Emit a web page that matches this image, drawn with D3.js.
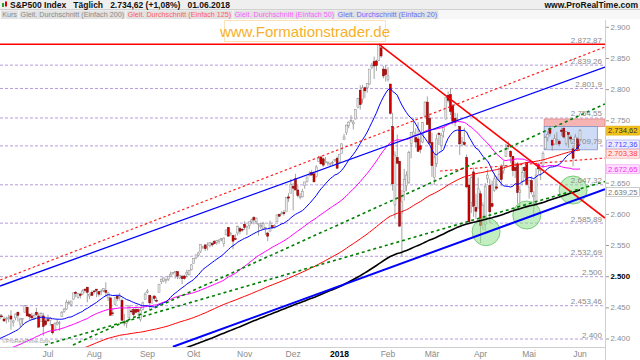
<!DOCTYPE html>
<html><head><meta charset="utf-8">
<script src="https://cdn.jsdelivr.net/npm/d3@7"></script>
<style>body{margin:0;background:#fff}svg{display:block;font-family:"Liberation Sans",Arial,sans-serif}</style>
</head><body><svg id="c" width="640" height="360"></svg>
<script>
// ---------- DATA ----------
const holidays = ["2017-07-04","2017-09-04","2017-11-23","2017-12-25","2018-01-01","2018-01-15","2018-02-19","2018-03-30","2018-05-28"];
const monthNames = ["Jan","Feb","Mär","Apr","Mai","Jun","Jul","Aug","Sep","Okt","Nov","Dez"];
// closes before the visible window (Aug 2016 - Jun 1 2017), needed for moving averages
const histCloses = [2182,2187,2184,2183,2187,2175,2172,2169,2180,2176,2171,
2171,2180,2186,2186,2181,2128,2159,2127,2126,2147,2139,2139,2140,2163,2177,2165,2146,2160,2171,2151,2168,
2161,2150,2160,2161,2154,2164,2137,2139,2133,2133,2127,2140,2144,2141,2141,2151,2143,2139,2133,2133,2126,
2112,2098,2089,2085,2132,2140,2163,2167,2164,2164,2180,2177,2187,2182,2198,2203,2205,2213,2202,2205,2199,
2191,2192,2205,2212,2241,2246,2260,2257,2272,2253,2262,2258,2263,2271,2265,2261,2264,2269,2250,2249,2239,
2258,2271,2269,2277,2269,2269,2275,2270,2275,2268,2272,2264,2271,2265,2280,2298,2297,2295,2281,2279,
2280,2281,2297,2293,2293,2295,2308,2316,2328,2338,2349,2347,2351,2365,2363,2364,2367,2370,2364,
2396,2382,2383,2375,2368,2363,2365,2373,2373,2365,2385,2381,2378,2373,2344,2348,2346,2344,2342,2359,2361,2368,2363,
2359,2360,2353,2357,2356,2357,2354,2345,2329,2349,2342,2338,2356,2349,2374,2389,2387,2389,2384,
2388,2391,2388,2390,2399,2399,2397,2400,2394,2391,2402,2401,2357,2366,2382,2394,2398,2404,2415,2416,2413,2412,
2430];
// daily bars [open, high, low, close]
const jun17 = [[2432,2440,2427,2439],[2437,2440,2434,2436],[2432,2436,2428,2429],[2432,2436,2425,2433],[2434,2439,2427,2434],[2437,2446,2415,2432],[2427,2431,2420,2429],[2434,2441,2430,2440],[2443,2444,2428,2438],[2424,2434,2419,2432],[2431,2433,2422,2433],[2443,2454,2443,2453.46],[2451,2451,2437,2437],[2440,2440,2431,2436],[2437,2442,2430,2434],[2432,2441,2431,2438],[2443,2450,2437,2439],[2437,2442,2419,2419],[2428,2443,2428,2441],[2437,2442,2405,2420],[2429,2432,2421,2423]];
const jul17 = [[2431,2439,2428,2429],[2430,2435,2421,2433],[2423,2424,2407,2410],[2414,2427,2413,2425],[2424,2432,2422,2427],[2426,2429,2413,2426],[2436,2445,2436,2443],[2444,2450,2442,2448],[2448,2463,2447,2459],[2459,2462,2455,2459],[2455,2461,2452,2461],[2464,2474,2463,2474],[2475,2477,2467,2473],[2467,2472,2465,2473],[2472,2474,2465,2470],[2472,2480,2471,2477],[2480,2481,2474,2478],[2483,2484,2459,2475],[2469,2473,2464,2472],[2475,2478,2469,2470]];
const aug17 = [[2477,2479,2473,2476],[2480,2480,2467,2478],[2476,2477,2468,2472],[2476,2480,2470,2477],[2478,2481,2475,2481],[2478,2491,2468,2475],[2466,2475,2461,2474],[2466,2466,2438,2438],[2442,2450,2437,2441],[2455,2468,2455,2466],[2469,2470,2461,2465],[2468,2474,2462,2468],[2462,2465,2430,2430],[2427,2440,2421,2426],[2425,2430,2418,2428],[2434,2454,2434,2453],[2445,2448,2441,2444],[2447,2450,2436,2439],[2447,2452,2441,2443],[2447,2449,2436,2444],[2431,2450,2428,2446],[2447,2460,2446,2458],[2463,2475,2463,2472]];
const sep17 = [[2475,2480,2473,2477],[2470,2471,2447,2458],[2464,2469,2456,2466],[2469,2470,2461,2465],[2462,2467,2459,2461],[2475,2488,2475,2488],[2492,2497,2488,2496],[2493,2499,2491,2498],[2494,2497,2489,2496],[2496,2500,2493,2500],[2501,2508,2500,2504],[2506,2507,2503,2507],[2507,2509,2497,2508],[2508,2508,2496,2501],[2498,2503,2496,2502],[2500,2503,2488,2497],[2501,2503,2495,2497],[2504,2511,2499,2507],[2503,2511,2502,2510],[2511,2520,2510,2519]];
const oct17 = [[2521,2530,2521,2529],[2530,2535,2528,2535],[2534,2540,2532,2538],[2540,2552,2538,2552],[2547,2549,2544,2549],[2551,2551,2541,2545],[2550,2555,2542,2551],[2550,2555,2547,2555],[2553,2556,2548,2551],[2557,2558,2552,2553],[2555,2559,2551,2558],[2557,2560,2553,2559],[2560,2562,2557,2561],[2553,2563,2548,2562],[2567,2575,2567,2575],[2579,2579,2564,2565],[2568,2572,2566,2569],[2566,2567,2544,2557],[2561,2568,2559,2560],[2570,2582,2566,2581],[2577,2580,2568,2573],[2576,2578,2572,2575]];
const nov17 = [[2584,2589,2575,2579],[2579,2582,2567,2580],[2582,2588,2576,2588],[2588,2593,2585,2591],[2595,2597,2584,2591],[2588,2595,2585,2594],[2585,2585,2566,2585],[2580,2586,2576,2582],[2577,2588,2576,2585],[2577,2580,2567,2579],[2570,2572,2557,2565],[2573,2590,2573,2586],[2582,2583,2577,2579],[2580,2584,2577,2582],[2588,2600,2588,2599],[2600,2601,2596,2597],[2600,2605,2600,2602],[2603,2607,2598,2601],[2605,2627,2605,2627],[2628,2634,2620,2626],[2634,2657,2634,2648]];
const dec17 = [[2645,2650,2606,2642],[2657,2665,2639,2639],[2639,2648,2627,2630],[2627,2634,2624,2629],[2628,2641,2627,2637],[2646,2652,2641,2652],[2653,2660,2651,2660],[2662,2669,2661,2664],[2667,2671,2662,2663],[2665,2669,2652,2652],[2661,2679,2659,2676],[2685,2694,2685,2690],[2692,2694,2680,2681],[2689,2691,2676,2679],[2683,2692,2682,2685],[2683,2685,2678,2683],[2680,2683,2677,2681],[2683,2686,2679,2683],[2686,2688,2684,2688],[2690,2693,2673,2674]];
const jan18 = [[2684,2696,2682,2696],[2698,2714,2698,2713],[2720,2729,2719,2724],[2731,2744,2727,2743],[2742,2749,2738,2748],[2751,2759,2747,2751],[2745,2751,2736,2748],[2753,2768,2752,2768],[2771,2787,2770,2786],[2799,2807,2768,2776],[2785,2808,2778,2803],[2803,2805,2787,2798],[2803,2810,2795,2810],[2809,2833,2808,2833],[2836,2843,2833,2839],[2845,2853,2817,2838],[2846,2848,2830,2839],[2847,2872.87,2846,2872.87],[2867,2871,2851,2854],[2833,2838,2818,2822],[2832,2839.26,2813,2824]];
const feb18 = [[2816,2836,2813,2822],[2809,2809,2760,2762],[2741,2763,2638,2649],[2615,2701,2593,2695],[2691,2728,2681,2682],[2685,2685,2581,2581],[2602,2639,2532.69,2620],[2637,2673,2622,2656],[2646,2669,2637,2663],[2651,2702,2649,2699],[2713,2732,2690,2731],[2727,2754,2725,2732],[2723,2738,2707,2716],[2721,2748,2701,2701],[2710,2731,2698,2704],[2716,2748,2714,2747],[2757,2781,2754,2780],[2780,2789,2744,2744],[2754,2762,2714,2714]];
const mar18 = [[2715,2731,2660,2678],[2659,2696,2647.32,2691],[2681,2728,2676,2721],[2730,2732,2711,2728],[2710,2731,2702,2727],[2733,2740,2723,2739],[2753,2787,2752,2787],[2791,2797,2779,2783],[2792,2801.9,2759,2765],[2774,2777,2744,2749],[2754,2763,2741,2747],[2751,2762,2750,2752],[2741,2741,2695,2713],[2715,2724,2710,2717],[2715,2739,2709.79,2712],[2691,2696,2642,2644],[2647,2658,2585.89,2588],[2619,2661,2602,2659],[2668,2675,2596,2613],[2611,2633,2593,2605],[2610,2659,2610,2641]];
const apr18 = [[2633,2638,2554,2582],[2592,2619,2575,2614],[2584,2650,2574,2645],[2657,2672,2650,2663],[2646,2657,2586,2604],[2617,2654,2611,2613],[2638,2665,2636,2657],[2644,2661,2639,2642],[2654,2675,2654,2664],[2677,2680,2645,2656],[2670,2686,2665,2678],[2693,2713,2692,2706],[2710,2717,2704,2709],[2701,2703,2682,2693],[2693,2694,2661,2670],[2675,2683,2658,2670],[2681,2684,2617,2635],[2635,2645,2613,2639],[2652,2676,2647,2667],[2675,2677,2659,2670],[2683,2683,2648,2648]];
const may18 = [[2643,2655,2625,2655],[2654,2661,2632,2636],[2628,2637,2595,2630],[2621,2674,2615,2663],[2680,2683,2665,2673],[2670,2676,2655,2672],[2678,2701,2674,2698],[2705,2726,2705,2723],[2723,2733,2717,2728],[2738,2742,2725,2730],[2719,2719,2702,2711],[2713,2728,2712,2722],[2720,2732,2711,2720],[2717,2720,2709,2713],[2735,2739,2726,2733],[2738,2742,2722,2724],[2714,2733,2710,2733],[2731,2732,2707,2728],[2724,2727,2715,2721],[2705,2711,2677,2690],[2702,2729,2702,2724],[2721,2723,2701,2705]];
const jun18 = [[2719,2737,2719,2734.62]];

// annotations (price units / trading-day index)
const levels = [2839.26, 2801.9, 2754.55, 2709.79, 2647.32, 2585.89, 2532.69, 2500, 2453.46, 2400];
const levelLabels = ["2.839,26","2.801,9","2.754,55","2.709,79","2.647,32","2.585,89","2.532,69","2.500","2.453,46","2.400"];
const topLevel = 2872.87, topLevelLabel = "2.872,87";
const yTicks = [2900, 2850, 2800, 2750, 2650, 2600, 2550, 2500, 2450, 2400];
const badgeValues = [2734.62, 2712.36, 2703.38, 2672.65, 2639.25];
const badgeLabels = ["2.734,62","2.712,36","2.703,38","2.672,65","2.639,25"];
const trendLines = [
  {a:[164,2872.87], b:[261.8,2594], kind:"redSolid"},
  {a:[0.3,2485], b:[261.8,2836.3], kind:"blueThin"},
  {a:[0.3,2494.6], b:[261.8,2868.4], kind:"redDash"},
  {a:[75,2387.5], b:[261.8,2640.3], kind:"blueThick"},
  {a:[31.8,2390.4], b:[261.8,2777], kind:"greenDash"},
  {a:[19.7,2390.4], b:[261.8,2652.6], kind:"greenDash"},
  {a:[190.5,2669.5], b:[261.8,2690.3], kind:"redDash"}
];
const circles = [[210.4,2572.1],[228.0,2598.9],[248.0,2639.0]];
const boxRange = {i0:235.5, i1:258.5, lo:2703.5, hi:2741};
const pinkRange = {i0:235.5, i1:261.8, lo:2741, hi:2753};
const maPeriods = [200,125,50,20];
const legendItems = [["Kurs","#8a8a8a"],["Gleit. Durchschnitt (Einfach 200)","#8a8a8a"],["Gleit. Durchschnitt (Einfach 125)","#ff5c5c"],["Gleit. Durchschnitt (Einfach 50)","#ff5cff"],["Gleit. Durchschnitt (Einfach 20)","#6a6aff"]];

// ---------- BUILD ----------
const bars = [].concat(jun17,jul17,aug17,sep17,oct17,nov17,dec17,jan18,feb18,mar18,apr18,may18,jun18);
const hol = new Set(holidays);
const fmtD = d3.utcFormat("%Y-%m-%d");
const dates = d3.utcDays(new Date(Date.UTC(2017,5,2)), new Date(Date.UTC(2018,5,2)))
  .filter(d => d.getUTCDay()!==0 && d.getUTCDay()!==6 && !hol.has(fmtD(d)));
const data = bars.map((b,i)=>({i, date:dates[i], o:b[0], h:b[1], l:b[2], c:b[3]}));
const allCloses = histCloses.concat(data.map(d=>d.c));
const H0 = histCloses.length;
function sma(n){
  return data.map((d,i)=>{const j=i+H0; if(j-n+1<0) return null; return d3.mean(allCloses.slice(j-n+1,j+1));});
}

const svg = d3.select("#c");
const L=0, R=605, T=20, B=347;
const x = d3.scaleLinear().domain([0, 251]).range([-0.6, 580]);
const y = d3.scaleLinear().domain([2387.2, 2911.7]).range([B, T]);

svg.append("defs").append("clipPath").attr("id","pc").append("rect").attr("x",L).attr("y",T).attr("width",R-L).attr("height",B-T);
const plot = svg.append("g").attr("clip-path","url(#pc)");

// level lines
plot.selectAll(".lv").data(levels).join("line")
  .attr("x1",L).attr("x2",R).attr("y1",d=>y(d)).attr("y2",d=>y(d))
  .attr("stroke","#b39ddb").attr("stroke-width",1).attr("stroke-dasharray","3,2");

// consolidation box
plot.append("rect").attr("x",x(pinkRange.i0)).attr("width",x(pinkRange.i1)-x(pinkRange.i0))
  .attr("y",y(pinkRange.hi)).attr("height",y(pinkRange.lo)-y(pinkRange.hi))
  .attr("fill","#f6b4b4").attr("stroke","#e08888").attr("stroke-width",0.8);
plot.append("rect").attr("x",x(boxRange.i0)).attr("width",x(boxRange.i1)-x(boxRange.i0))
  .attr("y",y(boxRange.hi)).attr("height",y(boxRange.lo)-y(boxRange.hi))
  .attr("fill","#cfdcf6").attr("stroke","#8391c4").attr("stroke-width",0.8);

// candles
const cg = plot.append("g");
cg.selectAll(".w").data(data).join("line")
  .attr("x1",d=>x(d.i)).attr("x2",d=>x(d.i)).attr("y1",d=>y(d.h)).attr("y2",d=>y(d.l))
  .attr("stroke","#8c8c8c").attr("stroke-width",0.8);
cg.selectAll(".b").data(data).join("rect")
  .attr("x",d=>x(d.i)-1).attr("width",2)
  .attr("y",d=>y(Math.max(d.o,d.c))).attr("height",d=>Math.max(0.8,Math.abs(y(d.o)-y(d.c))))
  .attr("fill",d=>d.c>=d.o?"#ececec":"#d40000")
  .attr("stroke",d=>d.c>=d.o?"#8c8c8c":"#7a0000").attr("stroke-width",0.5);

// green circles
plot.selectAll(".ci").data(circles).join("circle")
  .attr("cx",d=>x(d[0])).attr("cy",d=>y(d[1])).attr("r",14)
  .attr("fill","#8fe08f").attr("fill-opacity",0.55).attr("stroke","#66c266").attr("stroke-width",0.8);

// moving averages
const maStyle = {200:["#000000",1.6],125:["#ff0000",1],50:["#ff00ff",1],20:["#0000ff",1]};
maPeriods.forEach(n=>{
  const v = sma(n);
  const line = d3.line().defined((d,i)=>v[i]!==null).x(d=>x(d.i)).y((d,i)=>y(v[i]));
  plot.append("path").datum(data).attr("d",line).attr("fill","none")
    .attr("stroke",maStyle[n][0]).attr("stroke-width",maStyle[n][1]);
});

// top horizontal red line
plot.append("line").attr("x1",L).attr("x2",R).attr("y1",y(topLevel)).attr("y2",y(topLevel))
  .attr("stroke","#ff0000").attr("stroke-width",1.4);

// trend lines
const tStyle = {
  redSolid:{c:"#ff0000",w:1.6,d:null},
  redDash:{c:"#ff2020",w:1.2,d:"2.5,2.5"},
  blueThin:{c:"#0000ff",w:1.3,d:null},
  blueThick:{c:"#0000ff",w:2,d:null},
  greenDash:{c:"#008000",w:1.6,d:"3,3"}
};
plot.selectAll(".tl").data(trendLines).join("line")
  .attr("x1",d=>x(d.a[0])).attr("y1",d=>y(d.a[1])).attr("x2",d=>x(d.b[0])).attr("y2",d=>y(d.b[1]))
  .attr("stroke",d=>tStyle[d.kind].c).attr("stroke-width",d=>tStyle[d.kind].w)
  .attr("stroke-dasharray",d=>tStyle[d.kind].d);

// level labels
const lvlTxt = plot.append("g").attr("font-size",8).attr("fill","#8a8a8a").attr("text-anchor","end");
lvlTxt.selectAll("text").data(levels).join("text")
  .attr("x",R-3).attr("y",d=>y(d)-1.5).text((d,i)=>levelLabels[i]);
lvlTxt.append("text").attr("x",R-3).attr("y",y(topLevel)-1.5).text(topLevelLabel);

// copyright
svg.append("text").attr("x",2).attr("y",343).attr("font-size",5.5).attr("fill","#9a9a9a").text("©ProRealTime.com");

// frame
svg.append("line").attr("x1",L).attr("x2",R).attr("y1",B+0.5).attr("y2",B+0.5).attr("stroke","#cfcfcf");
svg.append("line").attr("x1",R+0.5).attr("x2",R+0.5).attr("y1",T).attr("y2",360).attr("stroke","#cfcfcf");

// y axis
const ya = svg.append("g").attr("font-size",7.8);
ya.selectAll("line").data(yTicks).join("line").attr("x1",R+1).attr("x2",R+4)
  .attr("y1",d=>y(d)).attr("y2",d=>y(d)).attr("stroke","#999");
ya.selectAll("text").data(yTicks).join("text").attr("x",R+5.5).attr("y",d=>y(d)+2.4)
  .attr("fill",d=>d===2500?"#000":"#8a8a8a").attr("font-weight",d=>d===2500?"bold":"normal")
  .text(d=>d3.format(",")(d).replace(",","."));

// badges (stacked so they do not cover each other or the tick labels)
const bStyle = [["#f2c21b","#d9a800","#333"],["#eceaff","#9c9cf0","#4848ff"],["#ffe4e4","#f0a0a0","#ff3a3a"],["#ffdcff","#f0a0f0","#f030f0"],["#ffffff","#a8a8a8","#777"]];
let prevBottom = -Infinity;
const bpos = badgeValues.map(v=>{
  let c=y(v);
  if(c-4.6<prevBottom) c=prevBottom+4.6;
  yTicks.forEach(t=>{const ty=y(t); if(c-4.5 < ty+4.3 && c+4.5 > ty-4) { if(c>ty) c = ty+8.8; }});
  prevBottom=c+4.6; return c;});
const bg = svg.append("g").attr("font-size",7.8);
badgeValues.forEach((v,i)=>{
  bg.append("rect").attr("x",R+1.5).attr("y",bpos[i]-4.3).attr("width",33).attr("height",9)
    .attr("fill",bStyle[i][0]).attr("stroke",bStyle[i][1]).attr("stroke-width",0.6);
  bg.append("text").attr("x",R+3).attr("y",bpos[i]+3).attr("fill",bStyle[i][2])
    .attr("textLength",29.5).attr("lengthAdjust","spacingAndGlyphs").text(badgeLabels[i]);
});

// x axis month labels
const months = [];
data.forEach((d,i)=>{ if(i>0 && d.date.getUTCMonth()!==data[i-1].date.getUTCMonth()) months.push(d); });
svg.append("g").attr("font-size",8.5).attr("text-anchor","middle").selectAll("text").data(months).join("text")
  .attr("x",d=>x(d.i)).attr("y",357)
  .attr("fill",d=>d.date.getUTCMonth()===0?"#000":"#8a8a8a")
  .attr("font-weight",d=>d.date.getUTCMonth()===0?"bold":"normal")
  .text(d=>d.date.getUTCMonth()===0?String(d.date.getUTCFullYear()):monthNames[d.date.getUTCMonth()]);

// watermark
const wm = svg.append("g");
wm.append("rect").attr("x",224.5).attr("y",20.5).attr("width",161).attr("height",21).attr("fill","#fff").attr("stroke","#fae3b8");
wm.append("text").attr("x",305).attr("y",37).attr("text-anchor","middle").attr("font-size",15).attr("fill","#f7b02a").text("www.Formationstrader.de");

// header
svg.append("rect").attr("x",0).attr("y",0).attr("width",640).attr("height",9.5).attr("fill","#efefef");
svg.append("line").attr("x1",0).attr("x2",640).attr("y1",9.5).attr("y2",9.5).attr("stroke","#d0d0d0");
svg.append("rect").attr("x",0).attr("y",10).attr("width",640).attr("height",9).attr("fill","#f7f7f7");
svg.append("rect").attr("x",2).attr("y",3).attr("width",2).attr("height",4).attr("fill","#2a9d2a");
svg.append("rect").attr("x",5).attr("y",1.5).attr("width",2).attr("height",5).attr("fill","#d40000");
svg.append("text").attr("x",10).attr("y",8).attr("font-size",8.5).attr("font-weight","bold").attr("fill","#111")
  .style("white-space","pre").text("S&P500 Index   Täglich   2.734,62 (+1,08%)   01.06.2018");
svg.append("text").attr("x",638).attr("y",8).attr("text-anchor","end").attr("font-size",8.5).attr("font-weight","bold").attr("fill","#111").text("www.ProRealTime.com");

let lx = 1;
legendItems.forEach(([t,c])=>{
  const g = svg.append("g");
  const r = g.append("rect").attr("x",lx).attr("y",10.5).attr("height",8.5).attr("fill","#e2e2e2");
  const tx = g.append("text").attr("x",lx+1.2).attr("y",17.3).attr("font-size",7.2).attr("fill",c).text(t);
  const w = tx.node().getComputedTextLength()+2.4;
  r.attr("width",w);
  lx += w + 1.2;
});
</script></body></html>
